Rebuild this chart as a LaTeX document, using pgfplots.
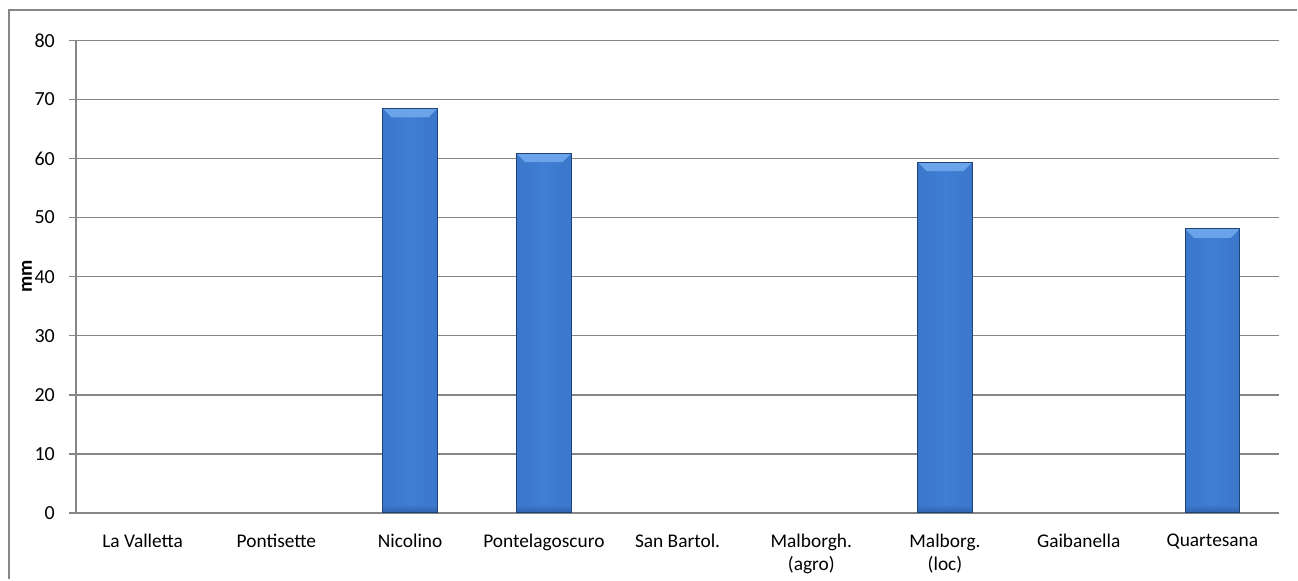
\documentclass[border=0pt]{standalone}
\usepackage{pgfplots}
\pgfplotsset{compat=1.18}
\usepackage{fontspec}
\setmainfont{Carlito}
\definecolor{gridgray}{HTML}{868686}
\definecolor{barmain}{HTML}{3973C6}
\definecolor{barmid}{HTML}{3F7ED3}
\definecolor{baredge}{HTML}{234F8E}
\definecolor{bartop}{HTML}{6BA4EA}
\definecolor{barbot}{HTML}{2F62A8}
\pgfdeclarehorizontalshading{barshade}{100bp}{color(0bp)=(baredge); color(12bp)=(barmain); color(50bp)=(barmid); color(88bp)=(barmain); color(100bp)=(baredge)}
\pgfplotsset{
  mybar/.style={ybar, bar width=27.5pt, bar shift=0pt, draw=baredge!85!black, line width=0.4pt,
    shading=barshade, shading angle=0,
    postaction={path picture={
      \path[draw=none, top color=bartop, bottom color=barmid!90!bartop] (path picture bounding box.north west) -- (path picture bounding box.north east)
        -- ([xshift=-4.5pt,yshift=-4.5pt]path picture bounding box.north east)
        -- ([xshift=4.5pt,yshift=-4.5pt]path picture bounding box.north west) -- cycle;
      \path[draw=none, top color=barmain, bottom color=barbot] (path picture bounding box.south west) rectangle ([yshift=3pt]path picture bounding box.south east);
    }}},
}
\begin{document}
\begin{tikzpicture}
\begin{axis}[
  scale only axis,
  width=603pt, height=236.75pt,
  xmin=-0.5, xmax=8.5,
  ymin=0, ymax=80,
  ytick={0,10,...,80},
  xtick={0,...,8},
  xticklabels={La Valletta,Pontisette,Nicolino,Pontelagoscuro,San Bartol.,{Malborgh.\\(agro)},{Malborg.\\(loc)},Gaibanella,Quartesana},
  xticklabel style={align=center, font=\fontsize{9.7}{11.6}\selectfont, yshift=-7pt},
  yticklabel style={font=\fontsize{10}{12}\selectfont, xshift=-3.5pt},
  /pgf/number format/assume math mode=true,
  major x tick style={draw=none},
  ytick align=outside,
  major tick length=3.5pt,
  tick style={gridgray, line width=0.75pt},
  ymajorgrids,
  grid style={gridgray, line width=0.75pt},
  axis x line*=bottom,
  axis y line*=left,
  axis line style={gridgray, line width=0.75pt, -},
  ylabel={\textbf{mm}},
  ylabel style={at={(axis description cs:0,0.5)}, anchor=center, yshift=24.5pt, font=\fontsize{10}{12}\selectfont},
  clip=false,
]
\addplot[mybar] coordinates {(2,68.5)};
\addplot[mybar] coordinates {(3,60.9)};
\addplot[mybar] coordinates {(6,59.4)};
\addplot[mybar] coordinates {(8,48.1)};
\coordinate (bl) at (rel axis cs:0,0);
\coordinate (tr) at (rel axis cs:1,1);
\end{axis}
\draw[gridgray, line width=0.75pt] ([xshift=-33.5pt,yshift=-33pt]bl) -- ([xshift=-33.5pt,yshift=15.25pt]bl|-tr) -- ([xshift=9pt,yshift=15.25pt]tr);
\useasboundingbox ([xshift=-38pt,yshift=-32.5pt]bl) rectangle ([xshift=8pt,yshift=20.25pt]tr);
\end{tikzpicture}
\end{document}
